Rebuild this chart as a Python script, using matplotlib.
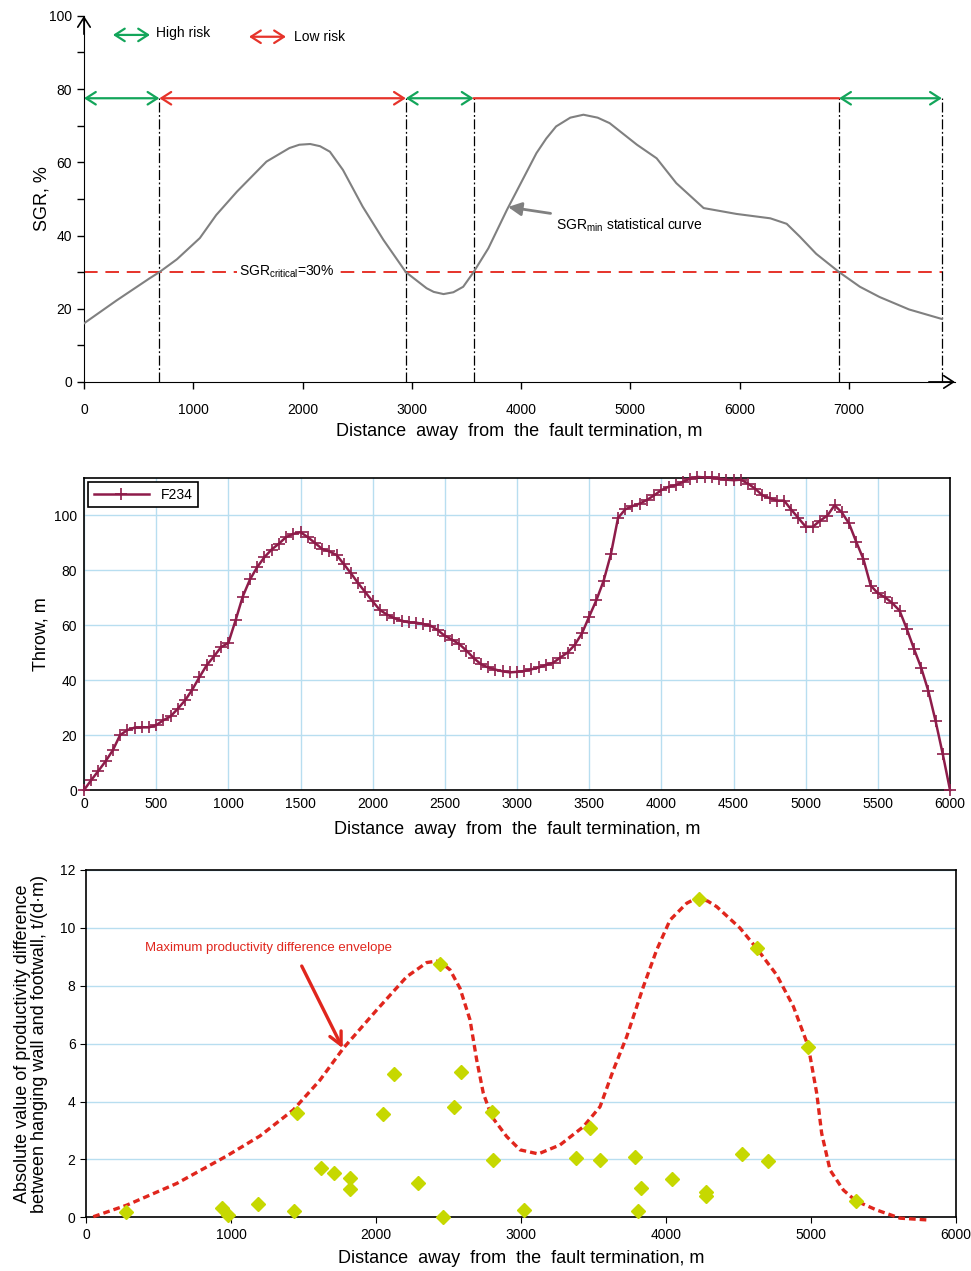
import numpy as np
import matplotlib
matplotlib.use('Agg')
import matplotlib.pyplot as plt

plt.rcParams['font.family'] = ['Liberation Sans', 'DejaVu Sans']
plt.rcParams['mathtext.fontset'] = 'custom'
plt.rcParams['mathtext.rm'] = 'Liberation Sans'
plt.rcParams['mathtext.it'] = 'Liberation Sans:italic'

# --- top panel: SGR statistical curve
sgr_dist = [0, 300, 600, 690, 850, 1060, 1210, 1400, 1670, 1880, 1970, 2070, 2160, 2250, 2370,
            2550, 2740, 2945, 3135, 3200, 3290, 3380, 3470, 3565, 3700, 3870, 4140, 4230, 4320,
            4450, 4570, 4700, 4810, 5060, 5240, 5420, 5670, 5970, 6280, 6430, 6550, 6700, 6910,
            7100, 7280, 7550, 7850]
sgr_vals = [16, 22.3, 28.3, 30, 33.5, 39.3, 45.6, 52, 60.2, 63.9, 64.8, 65, 64.4, 62.9, 57.9,
            47.9, 38.8, 30, 25.6, 24.6, 24, 24.5, 26, 30, 36.5, 47, 62.5, 66.5, 69.8,
            72.2, 73, 72.2, 70.7, 64.8, 61.1, 54.3, 47.5, 45.9, 44.7, 43.2, 39.7, 35, 30,
            26, 23.2, 19.8, 17.2]
sgr_critical = 30
zone_edges = [0, 690, 2945, 3565, 6910, 7850]
zone_risk = ['High', 'Low', 'High', 'Low', 'High']
zone_heads = ['<->', '<->', '<->', '-', '<->']
arrow_level = 77.5

# --- middle panel: throw profile of F234
throw_dist = list(range(0, 6001, 50))
throw_vals = [0, 3.6, 7.0, 10.5, 14.5, 20, 21.8, 22.7, 22.8, 22.8, 23.6, 25.4, 26.8, 29.6,
              32.6, 36.5, 41.1, 45.4, 48.6, 52, 53.5, 61.7, 70.4, 76.6, 81.1, 84.7, 87.5,
              89.6, 92, 93.2, 93.8, 92, 89.9, 87.7, 86.8, 85.5, 82.2, 78.8, 75.2, 71.9,
              68.6, 65.5, 63.8, 62.5, 61.6, 61, 60.9, 60.4, 59.8, 58.2, 56.1, 54.7, 53.1,
              50.7, 48, 45.8, 44.6, 43.8, 43.2, 42.8, 43, 43.3, 43.9, 44.6, 45.5, 46.3,
              48.2, 50, 52.8, 57, 63.1, 69.1, 76.1, 85.7, 99, 102.1, 103.3, 104.2, 105.5,
              107.2, 109.1, 110.3, 110.9, 112.1, 113.3, 113.9, 113.7, 113.7, 113.3, 112.9,
              112.7, 112.9, 111.5, 109.6, 107.2, 106.2, 105.3, 105.3, 102, 98.9, 95.8,
              95.8, 98, 99.8, 103.6, 101, 97, 90.3, 84, 74.4, 71.6, 70.1, 68, 65.3, 58.7,
              51.4, 44.5, 36, 25.1, 13, 0]

# --- bottom panel: productivity difference of wells
well_dist = [274, 940, 977, 1184, 1437, 1453, 1619, 1713, 1821, 1821, 2047, 2127, 2288,
             2442, 2465, 2541, 2587, 2803, 2810, 3024, 3378, 3477, 3546, 3787, 3806, 3829,
             4045, 4229, 4275, 4275, 4528, 4627, 4707, 4983, 5310]
well_diff = [0.19, 0.31, 0.08, 0.46, 0.23, 3.61, 1.71, 1.54, 1.37, 0.97, 3.57, 4.94, 1.20,
             8.75, 0.0, 3.82, 5.03, 3.63, 1.98, 0.25, 2.06, 3.10, 1.98, 2.09, 0.22, 1.00,
             1.32, 10.99, 0.89, 0.74, 2.18, 9.29, 1.95, 5.90, 0.57]
env_dist = [50, 281, 626, 971, 1200, 1430, 1614, 1775, 2005, 2212, 2300, 2350, 2418, 2460,
            2511, 2580, 2649, 2695, 2741, 2799, 2902, 2994, 3120, 3270, 3431, 3546, 3638,
            3730, 3845, 3937, 4029, 4144, 4190, 4236, 4290, 4351, 4512, 4627, 4765, 4880,
            4983, 5041, 5075, 5133, 5225, 5310, 5455, 5616, 5800]
env_vals = [0.02, 0.42, 1.17, 2.12, 2.81, 3.71, 4.74, 5.84, 7.16, 8.31, 8.62, 8.80, 8.85,
            8.76, 8.55, 7.91, 6.82, 5.44, 4.28, 3.48, 2.79, 2.33, 2.19, 2.50, 3.13, 3.82,
            5.09, 6.24, 7.97, 9.24, 10.27, 10.85, 10.97, 11.02, 10.92, 10.73, 9.99, 9.29,
            8.37, 7.28, 5.90, 4.28, 2.90, 1.63, 0.94, 0.57, 0.25, -0.03, -0.09]

green = '#13a55a'
red = '#e6332a'
xlabel = 'Distance  away  from  the  fault termination, m'

fig = plt.figure(figsize=(9.71, 12.71), dpi=100)

# ================= top =================
ax1 = fig.add_axes([0.0865, 0.6995, 0.897, 0.288])
ax1.set_xlim(0, 7970)
ax1.set_ylim(0, 100)
ax1.plot(sgr_dist, sgr_vals, color='#808080', lw=1.5, zorder=3)
ax1.hlines(sgr_critical, 0, zone_edges[-1], colors=red, linestyles=(0, (7, 4)), lw=1.4, zorder=2)
ax1.vlines(zone_edges[1:], 0, arrow_level, colors='k', linestyles=(0, (8, 2, 1.5, 2)), lw=0.9, zorder=2)
for i, risk in enumerate(zone_risk):
    c = green if risk == 'High' else red
    style = zone_heads[i]
    if style != '-':
        style += ',head_length=0.7,head_width=0.45'
    ax1.annotate('', xy=(zone_edges[i + 1], arrow_level), xytext=(zone_edges[i], arrow_level),
                 arrowprops=dict(arrowstyle=style, color=c, lw=1.6, shrinkA=0, shrinkB=0))
# legend of risk arrows
ax1.annotate('', xy=(604, 94.8), xytext=(265, 94.8),
             arrowprops=dict(arrowstyle='<->,head_length=0.7,head_width=0.45', color=green, lw=1.6, shrinkA=0, shrinkB=0))
ax1.text(660, 95.2, 'High risk', fontsize=10, va='center', ha='left')
ax1.annotate('', xy=(1848, 94.3), xytext=(1510, 94.3),
             arrowprops=dict(arrowstyle='<->,head_length=0.7,head_width=0.45', color=red, lw=1.6, shrinkA=0, shrinkB=0))
ax1.text(1921, 94.2, 'Low risk', fontsize=10, va='center', ha='left')

ax1.text(1860, 30, r'SGR$_{\mathregular{critical}}$=30%', fontsize=10, ha='center', va='center',
         bbox=dict(facecolor='white', edgecolor='none', pad=1.5), zorder=4)
ax1.annotate(r'SGR$_{\mathregular{min}}$ statistical curve', xy=(3880, 47.8), xytext=(4320, 42.8),
             fontsize=10, ha='left', va='center',
             arrowprops=dict(arrowstyle='-|>,head_length=0.8,head_width=0.4', color='#808080', lw=2,
                             shrinkA=2, shrinkB=0))

ax1.spines['top'].set_visible(False)
ax1.spines['right'].set_visible(False)
ax1.annotate('', xy=(1, 0), xytext=(0.97, 0), xycoords='axes fraction',
             arrowprops=dict(arrowstyle='->,head_length=0.7,head_width=0.45', lw=1.2, color='k', shrinkA=0, shrinkB=0))
ax1.annotate('', xy=(0, 1), xytext=(0, 0.95), xycoords='axes fraction',
             arrowprops=dict(arrowstyle='->,head_length=0.7,head_width=0.45', lw=1.2, color='k', shrinkA=0, shrinkB=0))
ax1.set_xticks(range(0, 8000, 1000))
ax1.set_yticks(range(0, 101, 20))
ax1.set_yticks(range(10, 100, 20), minor=True)
ax1.tick_params(direction='out', length=5, width=1, labelsize=10)
ax1.tick_params(axis='x', pad=10)
ax1.tick_params(which='minor', direction='out', length=5, width=1)
ax1.set_xlabel(xlabel, fontsize=13)
ax1.xaxis.set_label_coords(0.5, -0.113)
ax1.set_ylabel('SGR, %', fontsize=13)
ax1.yaxis.set_label_coords(-0.038, 0.5)

# ================= middle =================
ax2 = fig.add_axes([0.0865, 0.3784, 0.8919, 0.2455])
ax2.set_axisbelow(True)
ax2.grid(color='#b8def0', lw=1)
ax2.plot(throw_dist, throw_vals, color='#8e1c4a', lw=1.8, marker='+', markersize=8,
         markeredgewidth=1.2, label='F234', clip_on=False, zorder=3)
ax2.set_xlim(0, 6000)
ax2.set_ylim(0, 113.5)
ax2.set_xticks(range(0, 6001, 500))
ax2.set_yticks(range(0, 101, 20))
ax2.tick_params(direction='in', length=0, labelsize=10, pad=5)
for s in ax2.spines.values():
    s.set_linewidth(1.2)
leg = ax2.legend(loc='upper left', fontsize=10, handlelength=4, fancybox=False, framealpha=1,
                 edgecolor='k', borderaxespad=0.3)
leg.get_frame().set_linewidth(1.2)
ax2.set_xlabel(xlabel, fontsize=13)
ax2.xaxis.set_label_coords(0.5, -0.098)
ax2.set_ylabel('Throw, m', fontsize=13)
ax2.yaxis.set_label_coords(-0.04, 0.5)

# ================= bottom =================
ax3 = fig.add_axes([0.0886, 0.04225, 0.8957, 0.2733])
ax3.set_axisbelow(True)
ax3.yaxis.grid(True, color='#b8def0', lw=1)
ax3.plot(env_dist, env_vals, color='#e0261d', lw=2.4, linestyle=(0, (2, 1.2)), clip_on=False, zorder=3)
ax3.plot(well_dist, well_diff, linestyle='none', marker='D', markersize=7, color='#c6d800',
         clip_on=False, zorder=4)
ax3.text(407, 9.3, 'Maximum productivity difference envelope', color='#e0261d', fontsize=9.5,
         ha='left', va='center')
ax3.annotate('', xy=(1771, 5.84), xytext=(1488, 8.68),
             arrowprops=dict(arrowstyle='->,head_length=0.9,head_width=0.45', color='#e0261d', lw=2.4,
                             shrinkA=0, shrinkB=0))
ax3.set_xlim(0, 6000)
ax3.set_ylim(0, 12)
ax3.set_xticks(range(0, 6001, 1000))
ax3.set_yticks(range(0, 13, 2))
ax3.tick_params(direction='out', length=4, labelsize=10)
for s in ax3.spines.values():
    s.set_linewidth(1.2)
ax3.set_xlabel(xlabel, fontsize=13)
ax3.xaxis.set_label_coords(0.5, -0.093)
ax3.set_ylabel('Absolute value of productivity difference\nbetween hanging wall and footwall, t/(d\u00b7m)',
               fontsize=13, linespacing=1.0)
ax3.yaxis.set_label_coords(-0.044, 0.5)

fig.savefig('out.png', dpi=100)
